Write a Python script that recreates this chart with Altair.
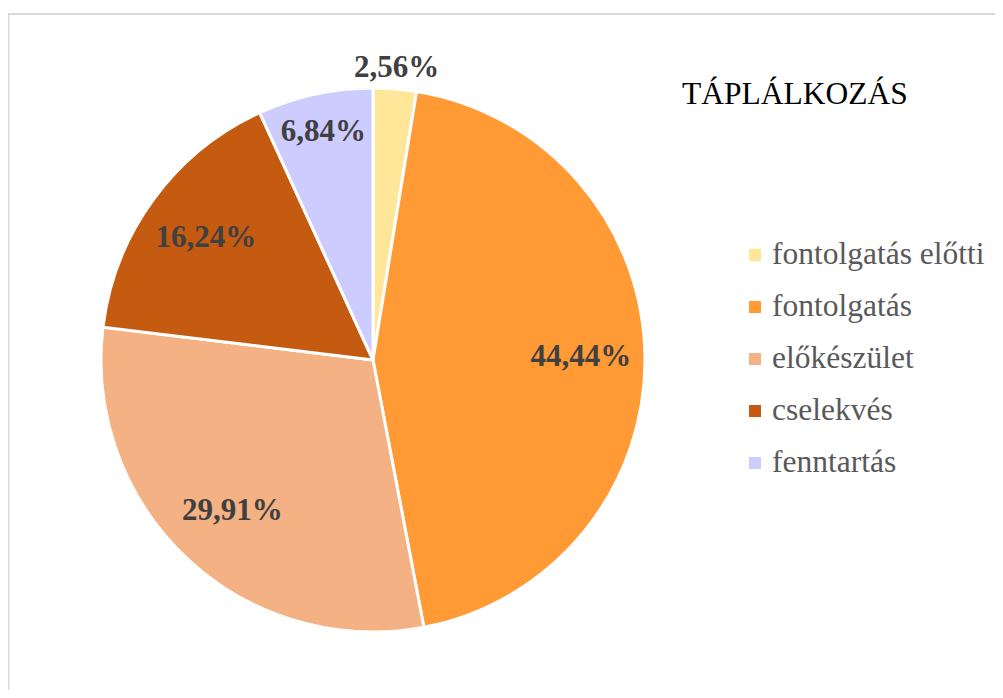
import altair as alt
import pandas as pd

categories = ["fontolgatás előtti", "fontolgatás", "előkészület", "cselekvés", "fenntartás"]
values = [2.56, 44.44, 29.91, 16.24, 6.84]
colors = ["#FFE699", "#FF9A35", "#F4B183", "#C55A11", "#CCCCFF"]
label_radius = [293, 208, 206, 207, 233]
title_text = ["TÁPLÁLKOZÁS"]

df = pd.DataFrame({
    "cat": categories,
    "value": values,
    "idx": list(range(len(categories))),
    "lr": label_radius,
})

CX, CY, R = 365, 352, 272
SERIF = "Liberation Serif"

color_scale = alt.Scale(domain=categories, range=colors)

pie = alt.Chart(df).mark_arc(stroke="white", strokeWidth=3).encode(
    theta=alt.Theta("value:Q", stack=True),
    order=alt.Order("idx:Q"),
    x=alt.value(CX),
    y=alt.value(CY),
    radius=alt.value(R),
    color=alt.Color("cat:N", scale=color_scale, legend=None),
)

labels = alt.Chart(df).transform_joinaggregate(
    total="sum(value)"
).transform_window(
    cum="sum(value)", sort=[alt.SortField("idx")], frame=[None, 0]
).transform_calculate(
    mid="(datum.cum - datum.value / 2) / datum.total * 2 * PI",
    lab="replace(format(datum.value, '.2f'), '.', ',') + '%'",
).mark_text(
    font=SERIF,
    fontSize=31,
    fontWeight="bold",
    color="#404040",
    align="center",
    baseline="middle",
).encode(
    theta=alt.Theta("mid:Q", scale=None, stack=None),
    x=alt.value(CX),
    y=alt.value(CY),
    radius=alt.Radius("lr:Q", scale=None),
    text="lab:N",
)

# legend drawn as marks
leg_y = alt.Y(
    "cat:N",
    scale=alt.Scale(domain=categories, range=[247, 455], padding=0),
    axis=None,
)

legend_sym = alt.Chart(df).mark_square(size=144, opacity=1, strokeWidth=0).encode(
    x=alt.value(747),
    y=leg_y,
    color=alt.Color("cat:N", scale=color_scale, legend=None),
)

legend_txt = alt.Chart(df).mark_text(
    font=SERIF,
    fontSize=31.5,
    color="#595959",
    align="left",
    baseline="middle",
).encode(
    x=alt.value(764),
    y=leg_y,
    text="cat:N",
)

title = alt.Chart(pd.DataFrame({"t": title_text})).mark_text(
    font=SERIF,
    fontSize=31.5,
    color="#000000",
    align="left",
    baseline="alphabetic",
).encode(
    x=alt.value(674),
    y=alt.value(96),
    text="t:N",
)

border_top = alt.Chart(pd.DataFrame({"k": [0]})).mark_rule(
    color="#D9D9D9", strokeWidth=2
).encode(x=alt.value(0), x2=alt.value(1000), y=alt.value(6))

border_left = alt.Chart(pd.DataFrame({"k": [0]})).mark_rule(
    color="#D9D9D9", strokeWidth=2
).encode(x=alt.value(0.5), y=alt.value(6), y2=alt.value(700))

chart = alt.layer(
    border_top, border_left, pie, labels, legend_sym, legend_txt, title
).properties(
    width=987,
    height=682,
    autosize=alt.AutoSizeParams(type="none"),
    padding=0,
).configure(font=SERIF).configure_view(stroke=None)

chart.save("out.html", embed_options={"renderer": "svg", "actions": False})
